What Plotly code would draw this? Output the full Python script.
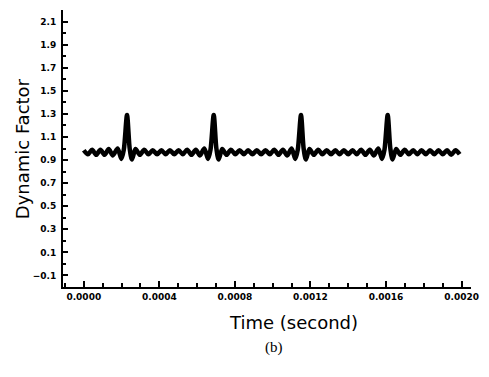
import plotly.graph_objects as go

# Time samples in microseconds and dynamic factor values
time_us = [0, 22, 44, 66, 88, 110, 132, 154, 179, 199, 212, 229, 243, 255, 274,
           297, 320, 342, 365, 388, 411, 433, 456, 479, 502, 524, 547, 570, 593, 615,
           638, 658, 671, 688, 702, 714, 733,
           756, 779, 802, 825, 848, 870, 893, 916, 939, 962, 985, 1008, 1031, 1054, 1077,
           1100, 1120, 1133, 1150, 1164, 1176, 1195,
           1218, 1241, 1263, 1286, 1309, 1332, 1354, 1377, 1400, 1423, 1445, 1468, 1491, 1514, 1536,
           1559, 1579, 1592, 1609, 1623, 1635, 1654,
           1676, 1699, 1721, 1744, 1766, 1788, 1811, 1833, 1856, 1878, 1900, 1923, 1945, 1968, 1990]
factor = [0.985, 0.950, 0.990, 0.945, 0.990, 0.945, 0.995, 0.940, 1.000, 0.910, 0.990, 1.290, 1.000, 0.905, 0.995,
          0.945, 0.990, 0.950, 0.985, 0.950, 0.985, 0.950, 0.985, 0.950, 0.985, 0.950, 0.990, 0.945, 0.990, 0.940,
          1.000, 0.910, 0.990, 1.290, 1.000, 0.905, 0.995,
          0.945, 0.990, 0.950, 0.985, 0.950, 0.985, 0.950, 0.985, 0.950, 0.985, 0.950, 0.990, 0.945, 0.990, 0.940,
          1.000, 0.910, 0.990, 1.290, 1.000, 0.905, 0.995,
          0.945, 0.990, 0.950, 0.985, 0.950, 0.985, 0.950, 0.985, 0.950, 0.985, 0.950, 0.990, 0.945, 0.990, 0.940,
          1.000, 0.910, 0.990, 1.290, 1.000, 0.905, 0.995,
          0.945, 0.990, 0.950, 0.985, 0.950, 0.985, 0.950, 0.985, 0.950, 0.985, 0.950, 0.985, 0.945, 0.985, 0.950]

x_tick_vals = [0.0000, 0.0004, 0.0008, 0.0012, 0.0016, 0.0020]
x_tick_text = ["0.0000", "0.0004", "0.0008", "0.0012", "0.0016", "0.0020"]
y_tick_vals = [-0.1, 0.1, 0.3, 0.5, 0.7, 0.9, 1.1, 1.3, 1.5, 1.7, 1.9, 2.1]
y_tick_text = ["\u22120.1", "0.1", "0.3", "0.5", "0.7", "0.9", "1.1", "1.3", "1.5", "1.7", "1.9", "2.1"]

time_s = [v * 1e-6 for v in time_us]

fig = go.Figure()
fig.add_trace(go.Scatter(x=time_s, y=factor, mode="lines",
                         line=dict(color="black", width=4.5, shape="spline", smoothing=0.8),
                         hoverinfo="skip"))

tick_font = dict(family="DejaVu Sans", size=9, color="black", weight="bold")

fig.update_layout(
    width=489, height=377,
    margin=dict(l=63, r=11, t=10, b=90),
    paper_bgcolor="white", plot_bgcolor="white",
    showlegend=False,
    xaxis=dict(range=[-0.00011, 0.00205], showgrid=False, zeroline=False,
               showline=True, linecolor="black", linewidth=2,
               tickmode="array", tickvals=x_tick_vals, ticktext=x_tick_text,
               ticks="inside", ticklen=6, tickwidth=2, tickcolor="black",
               minor=dict(dtick=0.0001, tick0=0, ticks="inside", ticklen=4, tickwidth=2, tickcolor="black"),
               tickfont=tick_font),
    yaxis=dict(range=[-0.2, 2.2], showgrid=False, zeroline=False,
               showline=True, linecolor="black", linewidth=2,
               tickmode="array", tickvals=y_tick_vals, ticktext=y_tick_text,
               ticks="inside", ticklen=5, tickwidth=2, tickcolor="black",
               minor=dict(dtick=0.1, tick0=0, ticks="inside", ticklen=3, tickwidth=2, tickcolor="black"),
               tickfont=tick_font, ticklabelstandoff=3),
)

fig.add_annotation(text="Dynamic Factor", xref="paper", yref="paper",
                   x=-41 / 415, y=0.5, textangle=-90, showarrow=False,
                   xanchor="center", yanchor="middle",
                   font=dict(family="DejaVu Sans", size=18, color="black"))
fig.add_annotation(text="Time (second)", xref="paper", yref="paper",
                   x=(297 - 63) / 415, y=-(322 - 287) / 277, showarrow=False,
                   xanchor="center", yanchor="middle",
                   font=dict(family="DejaVu Sans", size=18, color="black"))
fig.add_annotation(text="(b)", xref="paper", yref="paper",
                   x=(278 - 63) / 415, y=-(347 - 287) / 277, showarrow=False,
                   xanchor="center", yanchor="middle",
                   font=dict(family="Liberation Serif", size=15, color="black"))

fig.write_html("out.html")
